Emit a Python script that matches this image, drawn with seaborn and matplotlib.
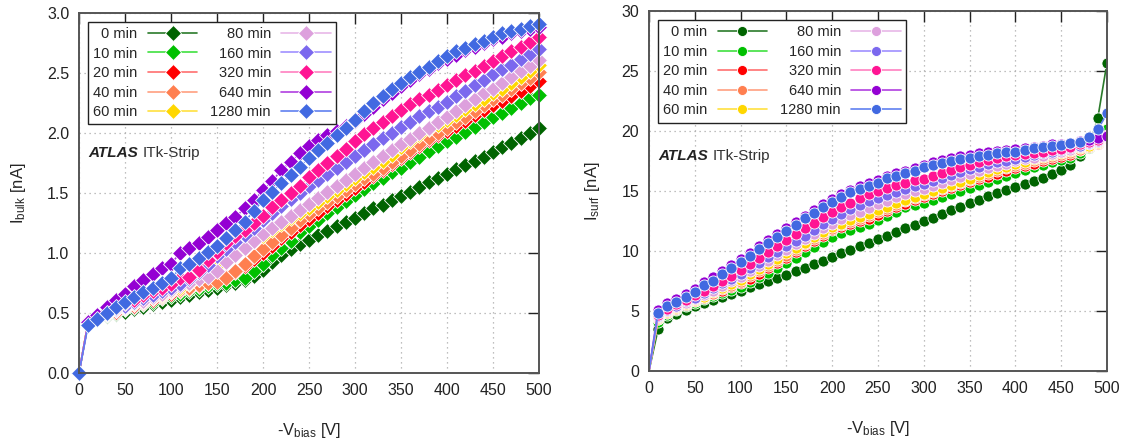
import matplotlib
matplotlib.use("Agg")
import matplotlib.pyplot as plt
from matplotlib.transforms import offset_copy
import seaborn as sns

# bias voltage steps (V)
volts = list(range(0, 510, 10))

labels = ["0 min", "10 min", "20 min", "40 min", "60 min",
          "80 min", "160 min", "320 min", "640 min", "1280 min"]
colors = ["#006400", "#00c000", "#ff0000", "#ff7f50", "#ffd700",
          "#dda0dd", "#7b68ee", "#ff1493", "#9400d3", "#4169e1"]
line_colors = ["#2a7a2a", "#40e040", "#ff7070", "#ffa080", "#ffe040",
               "#e8b8e8", "#a090ff", "#ff80c0", "#b040e0", "#6080f0"]

# bulk current (nA)
bulk_0 = [0, 0.42, 0.45, 0.47, 0.49, 0.51, 0.53, 0.55, 0.57, 0.59, 0.61, 0.63, 0.65, 0.67, 0.69, 0.71,
          0.73, 0.75, 0.77, 0.81, 0.86, 0.92, 0.98, 1.03, 1.07, 1.11, 1.15, 1.18, 1.22, 1.26, 1.29,
          1.33, 1.37, 1.40, 1.44, 1.47, 1.51, 1.55, 1.59, 1.62, 1.66, 1.70, 1.73, 1.77, 1.80, 1.84,
          1.88, 1.92, 1.96, 2.00, 2.04]
bulk_10 = [0, 0.43, 0.46, 0.48, 0.50, 0.53, 0.55, 0.57, 0.59, 0.62, 0.64, 0.66, 0.68, 0.70, 0.72, 0.74,
           0.75, 0.77, 0.79, 0.85, 0.91, 0.98, 1.04, 1.10, 1.17, 1.22, 1.27, 1.33, 1.38, 1.43, 1.48,
           1.53, 1.58, 1.62, 1.67, 1.71, 1.76, 1.80, 1.85, 1.89, 1.93, 1.97, 2.01, 2.05, 2.09, 2.13,
           2.17, 2.21, 2.25, 2.29, 2.32]
bulk_20 = [0, 0.43, 0.46, 0.49, 0.51, 0.54, 0.56, 0.58, 0.61, 0.63, 0.66, 0.68, 0.70, 0.72, 0.75, 0.77,
           0.80, 0.84, 0.89, 0.95, 1.00, 1.06, 1.12, 1.17, 1.23, 1.28, 1.33, 1.39, 1.44, 1.49, 1.54,
           1.59, 1.64, 1.69, 1.74, 1.79, 1.84, 1.89, 1.94, 1.98, 2.02, 2.06, 2.10, 2.15, 2.19, 2.23,
           2.27, 2.31, 2.35, 2.39, 2.43]
bulk_40 = [0, 0.43, 0.46, 0.49, 0.52, 0.54, 0.57, 0.59, 0.62, 0.64, 0.67, 0.69, 0.71, 0.73, 0.75, 0.76,
           0.79, 0.85, 0.91, 0.97, 1.03, 1.09, 1.15, 1.21, 1.27, 1.32, 1.37, 1.42, 1.47, 1.52, 1.57,
           1.62, 1.66, 1.71, 1.76, 1.81, 1.86, 1.91, 1.96, 2.00, 2.04, 2.09, 2.13, 2.18, 2.23, 2.28,
           2.32, 2.37, 2.42, 2.46, 2.51]
bulk_60 = [0, 0.43, 0.46, 0.49, 0.52, 0.55, 0.57, 0.60, 0.62, 0.65, 0.68, 0.71, 0.74, 0.78, 0.83, 0.89,
           0.95, 1.00, 1.05, 1.10, 1.14, 1.19, 1.24, 1.29, 1.33, 1.37, 1.42, 1.47, 1.52, 1.57, 1.62,
           1.67, 1.72, 1.77, 1.82, 1.88, 1.93, 1.98, 2.03, 2.07, 2.11, 2.15, 2.20, 2.24, 2.28, 2.33,
           2.37, 2.42, 2.47, 2.52, 2.57]
bulk_80 = [0, 0.42, 0.46, 0.49, 0.52, 0.55, 0.58, 0.60, 0.63, 0.66, 0.69, 0.72, 0.75, 0.78, 0.80, 0.85,
           0.92, 0.98, 1.04, 1.10, 1.16, 1.21, 1.26, 1.31, 1.36, 1.41, 1.46, 1.51, 1.56, 1.61, 1.66,
           1.71, 1.76, 1.81, 1.86, 1.91, 1.95, 2.00, 2.04, 2.09, 2.13, 2.18, 2.23, 2.28, 2.33, 2.37,
           2.42, 2.47, 2.52, 2.56, 2.61]
bulk_160 = [0, 0.42, 0.46, 0.50, 0.53, 0.56, 0.59, 0.62, 0.65, 0.68, 0.71, 0.74, 0.78, 0.84, 0.90, 0.97,
            1.03, 1.09, 1.15, 1.21, 1.27, 1.33, 1.39, 1.45, 1.50, 1.56, 1.61, 1.66, 1.71, 1.76, 1.81,
            1.86, 1.91, 1.96, 2.00, 2.05, 2.09, 2.14, 2.18, 2.22, 2.26, 2.31, 2.35, 2.40, 2.44, 2.49,
            2.53, 2.57, 2.62, 2.66, 2.70]
bulk_320 = [0, 0.42, 0.46, 0.50, 0.54, 0.58, 0.61, 0.65, 0.68, 0.71, 0.74, 0.79, 0.80, 0.86, 0.94, 1.01,
            1.08, 1.14, 1.19, 1.25, 1.31, 1.38, 1.44, 1.50, 1.56, 1.63, 1.69, 1.75, 1.81, 1.87, 1.93,
            1.99, 2.04, 2.09, 2.14, 2.19, 2.24, 2.28, 2.32, 2.36, 2.40, 2.44, 2.48, 2.52, 2.56, 2.60,
            2.64, 2.68, 2.72, 2.76, 2.80]
bulk_640 = [0, 0.42, 0.48, 0.55, 0.61, 0.66, 0.72, 0.77, 0.82, 0.87, 0.91, 1.00, 1.04, 1.08, 1.13, 1.19,
            1.25, 1.30, 1.37, 1.44, 1.52, 1.60, 1.69, 1.76, 1.83, 1.89, 1.94, 1.98, 2.02, 2.06, 2.10,
            2.16, 2.22, 2.28, 2.33, 2.39, 2.44, 2.49, 2.53, 2.58, 2.62, 2.65, 2.69, 2.72, 2.75, 2.78,
            2.80, 2.83, 2.85, 2.87, 2.88]
bulk_1280 = [0, 0.40, 0.45, 0.50, 0.55, 0.59, 0.63, 0.67, 0.71, 0.75, 0.79, 0.87, 0.91, 0.96, 1.01, 1.06,
             1.12, 1.19, 1.26, 1.35, 1.44, 1.51, 1.58, 1.65, 1.72, 1.79, 1.86, 1.92, 1.98, 2.04, 2.11,
             2.18, 2.25, 2.31, 2.37, 2.42, 2.47, 2.51, 2.55, 2.60, 2.64, 2.68, 2.71, 2.74, 2.77, 2.80,
             2.83, 2.85, 2.87, 2.89, 2.91]

# surface current (nA)
surf_0 = [0, 3.5, 4.4, 4.75, 5.1, 5.4, 5.7, 5.95, 6.2, 6.45, 6.7, 7.0, 7.25, 7.5, 7.75, 8.0,
          8.3, 8.6, 8.9, 9.2, 9.5, 9.8, 10.1, 10.4, 10.7, 11.0, 11.3, 11.6, 11.9, 12.2, 12.5,
          12.8, 13.1, 13.4, 13.7, 14.0, 14.3, 14.6, 14.85, 15.1, 15.35, 15.6, 15.85, 16.1, 16.4, 16.8,
          17.2, 17.9, 18.6, 21.1, 25.7]
surf_10 = [0, 4.1, 4.7, 5.05, 5.4, 5.7, 6.0, 6.25, 6.5, 6.75, 7.0, 7.4, 7.8, 8.2, 8.6, 9.0,
           9.45, 9.9, 10.35, 10.8, 11.2, 11.5, 11.75, 12.0, 12.25, 12.6, 12.95, 13.3, 13.65, 13.85, 14.0,
           14.3, 14.55, 14.8, 15.05, 15.3, 15.55, 15.8, 16.05, 16.3, 16.55, 16.8, 17.0, 17.2, 17.4, 17.6,
           17.8, 18.2, 18.6, 19.1, 20.2]
surf_20 = [0, 4.3, 4.8, 5.15, 5.5, 5.8, 6.1, 6.4, 6.7, 7.0, 7.3, 7.7, 8.1, 8.55, 9.0, 9.4,
           9.9, 10.4, 10.85, 11.3, 11.75, 12.0, 12.25, 12.5, 12.7, 13.0, 13.35, 13.65, 13.95, 14.25, 14.5,
           14.75, 15.0, 15.25, 15.5, 15.75, 16.0, 16.2, 16.45, 16.7, 16.9, 17.1, 17.3, 17.5, 17.7, 17.85,
           18.0, 18.4, 18.65, 18.9, 19.4]
surf_40 = [0, 4.35, 4.85, 5.2, 5.55, 5.85, 6.15, 6.45, 6.8, 7.1, 7.45, 7.9, 8.35, 8.75, 9.2, 9.6,
           10.1, 10.55, 11.0, 11.45, 11.85, 12.15, 12.45, 12.7, 12.95, 13.25, 13.55, 13.85, 14.15, 14.4, 14.65,
           14.9, 15.15, 15.4, 15.65, 15.9, 16.2, 16.45, 16.7, 16.9, 17.1, 17.3, 17.5, 17.7, 17.85, 18.0,
           18.2, 18.45, 18.7, 19.0, 19.45]
surf_60 = [0, 4.4, 4.9, 5.25, 5.6, 5.9, 6.2, 6.55, 6.9, 7.25, 7.6, 8.05, 8.5, 8.9, 9.35, 9.8,
           10.25, 10.7, 11.15, 11.6, 12.0, 12.3, 12.6, 12.85, 13.1, 13.4, 13.7, 14.0, 14.3, 14.55, 14.8,
           15.05, 15.3, 15.55, 15.8, 16.05, 16.35, 16.6, 16.85, 17.05, 17.25, 17.45, 17.65, 17.85, 18.0, 18.15,
           18.35, 18.6, 18.8, 19.05, 19.5]
surf_80 = [0, 4.5, 5.0, 5.35, 5.7, 6.0, 6.35, 6.7, 7.1, 7.5, 7.86, 8.3, 8.75, 9.2, 9.65, 10.1,
           10.55, 11.0, 11.45, 11.9, 12.3, 12.65, 13.0, 13.3, 13.6, 13.9, 14.2, 14.5, 14.75, 15.0, 15.2,
           15.45, 15.7, 15.95, 16.2, 16.45, 16.7, 16.9, 17.1, 17.3, 17.5, 17.65, 17.8, 17.95, 18.1, 18.25,
           18.45, 18.7, 18.9, 19.1, 19.5]
surf_160 = [0, 4.6, 5.1, 5.45, 5.8, 6.1, 6.5, 6.9, 7.3, 7.7, 8.1, 8.55, 9.0, 9.5, 9.95, 10.4,
            10.85, 11.3, 11.8, 12.25, 12.7, 13.1, 13.5, 13.85, 14.2, 14.45, 14.7, 14.95, 15.2, 15.4, 15.6,
            15.85, 16.1, 16.35, 16.6, 16.85, 17.05, 17.25, 17.4, 17.55, 17.7, 17.85, 18.0, 18.15, 18.3, 18.45,
            18.6, 18.8, 19.0, 19.2, 19.6]
surf_320 = [0, 4.7, 5.2, 5.55, 5.95, 6.3, 6.7, 7.1, 7.5, 7.95, 8.4, 8.9, 9.4, 9.9, 10.4, 10.9,
            11.4, 11.9, 12.35, 12.85, 13.3, 13.7, 14.05, 14.4, 14.75, 15.0, 15.25, 15.5, 15.7, 15.9, 16.05,
            16.3, 16.55, 16.8, 17.0, 17.2, 17.4, 17.6, 17.75, 17.9, 18.0, 18.1, 18.2, 18.3, 18.4, 18.5,
            18.7, 18.9, 19.1, 19.3, 19.7]
surf_640 = [0, 5.1, 5.65, 6.0, 6.4, 6.85, 7.4, 7.8, 8.3, 8.8, 9.35, 9.8, 10.4, 10.9, 11.45, 11.95,
            12.45, 12.95, 13.45, 13.9, 14.35, 14.75, 15.1, 15.4, 15.65, 15.95, 16.3, 16.5, 16.7, 16.95, 17.2,
            17.4, 17.6, 17.75, 17.9, 18.05, 18.15, 18.25, 18.35, 18.45, 18.5, 18.6, 18.7, 18.8, 18.9, 18.95,
            19.05, 19.15, 19.3, 19.4, 19.6]
surf_1280 = [0, 4.86, 5.42, 5.78, 6.19, 6.61, 7.17, 7.53, 8.08, 8.56, 9.11, 9.58, 10.14, 10.64, 11.19, 11.69,
             12.17, 12.72, 13.19, 13.64, 14.11, 14.53, 14.89, 15.14, 15.42, 15.7, 16.06, 16.25, 16.47, 16.69, 16.97,
             17.17, 17.36, 17.53, 17.64, 17.8, 17.92, 18.0, 18.14, 18.22, 18.28, 18.42, 18.56, 18.64, 18.75, 18.83,
             18.97, 19.11, 19.47, 20.14, 21.47]

bulk = [bulk_0, bulk_10, bulk_20, bulk_40, bulk_60, bulk_80, bulk_160, bulk_320, bulk_640, bulk_1280]
surf = [surf_0, surf_10, surf_20, surf_40, surf_60, surf_80, surf_160, surf_320, surf_640, surf_1280]

sns.set_style("white")
plt.rcParams['font.family'] = ['Liberation Sans', 'DejaVu Sans']
plt.rcParams['mathtext.fontset'] = 'custom'
plt.rcParams['mathtext.rm'] = 'Liberation Sans'
plt.rcParams['mathtext.it'] = 'Liberation Sans:italic'
plt.rcParams['mathtext.bf'] = 'Liberation Sans:bold'

fig = plt.figure(figsize=(11.29, 4.46), dpi=100)
ax1 = fig.add_axes([0.070, 0.164, 0.4074, 0.807])
ax2 = fig.add_axes([0.5748, 0.168, 0.4057, 0.807])


def draw(ax, data, marker, ms, clip, every):
    for lab, c, lc, vals in zip(labels, colors, line_colors, data):
        sns.lineplot(x=volts, y=vals, ax=ax, color=lc, linewidth=1.2, marker=marker,
                     markersize=ms, markerfacecolor=c, markeredgecolor='white',
                     markeredgewidth=0.6, label=lab, clip_on=clip, markevery=every)
    ax.set_xlim(0, 500)
    ax.set_xticks(range(0, 501, 50))
    ax.grid(True, linestyle=(0, (1, 3)), color='#aaaaaa', linewidth=0.9)
    ax.tick_params(direction='in', top=True, right=True, length=8, width=1,
                   labelsize=11.5, colors='#222222', pad=7)
    for s in ax.spines.values():
        s.set_color('#555555')
        s.set_linewidth(1.4)
    ax.set_xlabel(r'-V$_\mathrm{bias}$ [V]', fontsize=12, labelpad=17)
    leg = ax.legend(loc='upper left', bbox_to_anchor=(0.02, 0.975), borderaxespad=0,
                    ncol=2, markerfirst=False, fancybox=False, framealpha=1,
                    edgecolor='#222222', fontsize=10.5, handlelength=3.4, labelspacing=0.38,
                    columnspacing=0.9, borderpad=0.35, handletextpad=0.7, markerscale=0.9)
    leg.get_frame().set_linewidth(1.0)


def atlas_label(ax, x, y):
    t = ax.text(x, y, 'ATLAS', fontsize=11, fontweight='bold', fontstyle='italic',
                color='#222222')
    fig.canvas.draw()
    w = t.get_window_extent().width * 72 / fig.dpi
    ax.text(x, y, 'ITk-Strip', fontsize=11, color='#333333',
            transform=offset_copy(ax.transData, fig=fig, x=w + 3.5, y=0, units='points'))


draw(ax1, bulk, 'D', 8.5, False, None)
ax1.set_ylim(0, 3.0)
ax1.set_yticks([0, 0.5, 1.0, 1.5, 2.0, 2.5, 3.0])
ax1.set_yticklabels(['0.0', '0.5', '1.0', '1.5', '2.0', '2.5', '3.0'])
ax1.set_ylabel(r'I$_\mathrm{bulk}$ [nA]', fontsize=12, labelpad=14)
atlas_label(ax1, 10, 1.8)

draw(ax2, surf, 'o', 8, True, slice(1, None))
ax2.set_ylim(0, 30)
ax2.set_yticks(range(0, 31, 5))
ax2.set_ylabel(r'I$_\mathrm{surf}$ [nA]', fontsize=12, labelpad=14)
atlas_label(ax2, 10, 17.6)

fig.savefig('out.png', dpi=100)
